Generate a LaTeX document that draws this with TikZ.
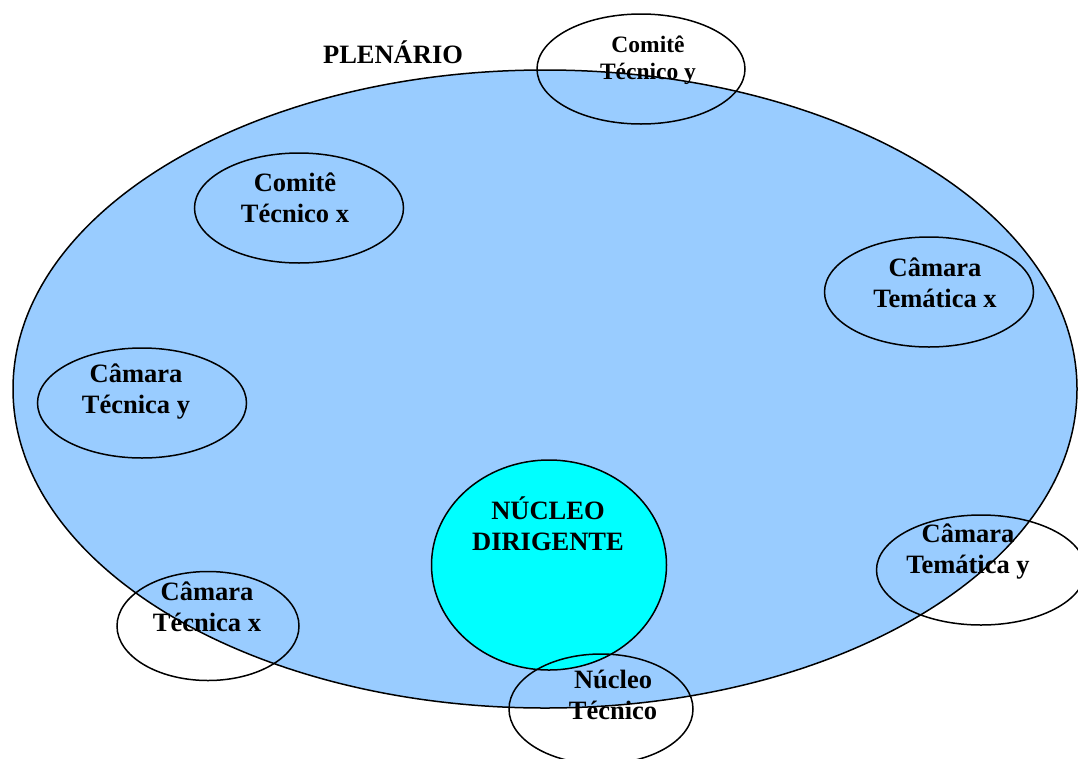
\documentclass[tikz,border=0pt]{standalone}
\usepackage{fontspec}
\setmainfont{Liberation Serif}
\usetikzlibrary{shapes.geometric}
\definecolor{azulplen}{HTML}{99CCFF}
\definecolor{ciano}{HTML}{00FFFF}
\tikzset{
  orgao/.style={draw, ellipse, line width=1.5pt, inner sep=0pt},
  rotulo/.style={font=\fontsize{26.5}{31}\selectfont\bfseries, align=center, inner sep=0pt, anchor=base}
}
\begin{document}
\begin{tikzpicture}[x=1pt,y=-1pt]
	\useasboundingbox (0,0) rectangle (1078,758);
	\clip (0,0) rectangle (1078,758);
	
	% Plenário
	\coordinate (P) at (545,389);
	\filldraw[fill=azulplen, line width=1.5pt] (P) ellipse [x radius=532pt, y radius=319pt];
	\node[rotulo] (plen) at (393,63) {PLENÁRIO};
	
	% Comitês e câmaras
	\node[orgao, minimum width=208pt, minimum height=110pt] (cty) at (641,69) {};
	\node[orgao, minimum width=209pt, minimum height=110pt] (ctx) at (299,208) {};
	\node[orgao, minimum width=209pt, minimum height=110pt] (ctmx) at (929,292) {};
	\node[orgao, minimum width=209pt, minimum height=110pt] (ctcy) at (142,403) {};
	\node[orgao, minimum width=209pt, minimum height=110pt] (ctmy) at (981,570) {};
	\node[orgao, minimum width=182pt, minimum height=109pt] (ctcx) at (208,626) {};
	
	% Núcleo dirigente
	\node[orgao, fill=ciano, minimum width=235pt, minimum height=210pt] (nd) at (549,565) {};
	\node[orgao, minimum width=184pt, minimum height=110pt] (nt) at (601,709) {};
	
	% Textos
	\node[rotulo, font=\fontsize{23.5}{27}\selectfont\bfseries] (tcty) at (648,79) {Comitê\\Técnico y};
	\node[rotulo] (tctx) at (295,222) {Comitê\\Técnico x};
	\node[rotulo] (tctmx) at (935,307) {Câmara\\Temática x};
	\node[rotulo] (tctcy) at (136,413) {Câmara\\Técnica y};
	\node[rotulo] (tctmy) at (968,573) {Câmara\\Temática y};
	\node[rotulo] (tctcx) at (207,631) {Câmara\\Técnica x};
	\node[rotulo] (tnd) at (548,550) {NÚCLEO\\DIRIGENTE};
	\node[rotulo] (tnt) at (613,719) {Núcleo\\Técnico};
\end{tikzpicture}
\end{document}
